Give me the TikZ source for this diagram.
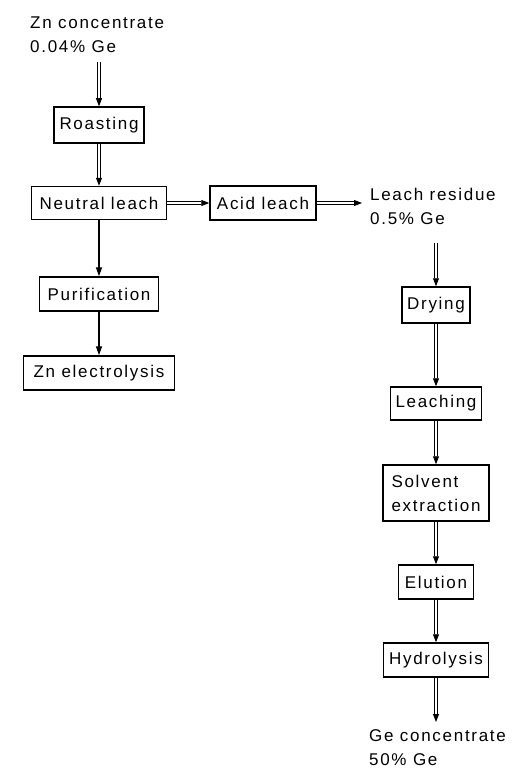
\documentclass[tikz,border=0pt]{standalone}
\usepackage{fontspec}
\setmainfont{Liberation Sans}[LetterSpace=10]
\usetikzlibrary{arrows.meta}
\begin{document}
\begin{tikzpicture}[x=1pt,y=-1pt,
  txt/.style={font=\fontsize{17}{24}\selectfont},
  box/.style={txt, draw, line width=1.5pt, inner sep=0pt},
  lbl/.style={txt, inner sep=0pt, anchor=north west, align=left},
  dbl/.style={double, double distance=2pt, line width=0.9pt, -{Triangle[length=8pt,width=6pt]}},
  sgl/.style={line width=1.4pt, -{Triangle[length=9pt,width=6pt]}}]
\useasboundingbox (0,0) rectangle (513,770);
% labels
\node[lbl] (zn) at (30,17) {Zn concentrate\\0.04\% Ge};
\node[lbl] (lr) at (370,188) {Leach residue\\0.5\% Ge};
\node[lbl] (ge) at (369,729) {Ge concentrate\\50\% Ge};
% boxes
\node[box, minimum width=90pt, minimum height=36pt] (roast) at (99,125) {Roasting};
\node[box, minimum width=135pt, minimum height=33pt] (nl) at (99,203) {Neutral leach};
\node[box, minimum width=106pt, minimum height=34pt] (al) at (263,203) {Acid leach};
\node[box, minimum width=119pt, minimum height=34pt] (pur) at (99,294) {Purification};
\node[box, minimum width=151pt, minimum height=34pt] (zne) at (99,373) {Zn electrolysis};
\node[box, minimum width=68pt, minimum height=36pt] (dry) at (436,305) {Drying};
\node[box, minimum width=91pt, minimum height=33pt] (leach) at (436,403.5) {Leaching};
\node[box, minimum width=106pt, minimum height=56pt, align=left] (sx) at (436,493) {Solvent\\extraction};
\node[box, minimum width=75pt, minimum height=34pt] (elu) at (436,582) {Elution};
\node[box, minimum width=105pt, minimum height=34pt] (hyd) at (436,660) {Hydrolysis};
% free ends
\coordinate (znout) at (99,62);
\coordinate (lrin) at (362,205);
\coordinate (lrout) at (436,243);
\coordinate (gein) at (436,722);
% connectors
\draw[dbl] (znout) -- (roast.north);
\draw[dbl] (roast.south) -- (nl.north);
\draw[dbl] (nl.east) -- (al.west);
\draw[dbl] (al.east) -- (al.east -| lrin);
\draw[sgl] (nl.south) -- (pur.north);
\draw[sgl] (pur.south) -- (zne.north);
\draw[dbl] (lrout) -- (dry.north);
\draw[dbl] (dry.south) -- (leach.north);
\draw[dbl] (leach.south) -- (sx.north);
\draw[dbl] (sx.south) -- (elu.north);
\draw[dbl] (elu.south) -- (hyd.north);
\draw[dbl] (hyd.south) -- (gein);
\end{tikzpicture}
\end{document}
